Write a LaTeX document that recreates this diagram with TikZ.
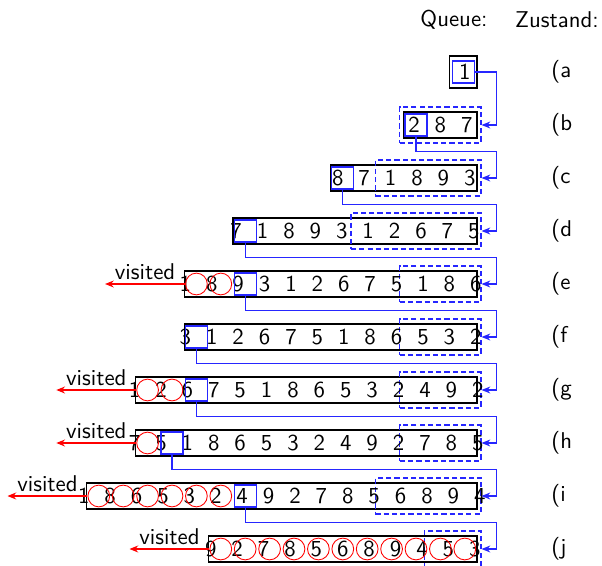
\documentclass[tikz,border=0pt]{standalone}
\usetikzlibrary{arrows.meta,fit,shadows}

% one queue row: name, y, length, digits, visited, current, new
\newcommand{\qrow}[7]{%
  \pgfmathsetmacro{\qL}{477-#3*24.4}
  \pgfmathsetmacro{\qC}{477-#3*12.2}
  \pgfmathsetmacro{\qP}{#3==1 ? 3 : 0}
  \node[qbox, fit={(\qL-\qP,#2-13-\qP) (477,#2+13+\qP)}] (q#1) {};
  \ifnum#7>0
    \node[newpart, fit={({477-#7*24.4-4},#2-18) (481,#2+18)}] (n#1) {};
  \fi
  \foreach \d [count=\k from 0] in {#4}
    \node[digit] (d#1\k) at ({\qC+(\k-(#3-1)/2)*26.4},#2) {\d};
  \ifnum#5>0
    \pgfmathtruncatemacro{\qv}{#5-1}
    \foreach \k in {0,...,\qv}
      \node[seencell] (v#1\k) at ({\qL+(\k+0.5)*24.4},#2) {};
    \path (v#10.west) ++(-80,0) coordinate (o#1);
    \draw[seen] (v#10.west) -- (o#1) node[midway, above, text=black, inner sep=1.5pt] (w#1) {visited};
  \fi
  \ifnum#6>-1
    \node[cur] (c#1) at ({\qL-\qP/2+(#6+0.5)*24.4},#2) {};
  \fi
  \node[anchor=west, inner sep=0pt] (l#1) at (551,#2) {(#1};
}

\begin{document}
\begin{tikzpicture}[x=0.46pt, y=-0.46pt, font=\sffamily\fontsize{10.5}{12}\selectfont,
    qbox/.style = {draw, line width=0.5pt, fill=white, inner sep=0pt,
      drop shadow={shadow xshift=0.5pt, shadow yshift=-0.5pt, fill=black!40, opacity=1}},
    newpart/.style = {draw=blue!85, dash pattern=on 2.4pt off 1.4pt, line width=0.55pt, inner sep=0pt},
    digit/.style = {inner sep=0pt},
    seencell/.style = {draw=red, circle, minimum size=10pt, inner sep=0pt, line width=0.4pt},
    cur/.style = {draw=blue!85, minimum size=10.1pt, inner sep=0pt, line width=0.55pt},
    link/.style = {blue!85, line width=0.55pt, -{Stealth[length=4pt,width=3.2pt]}},
    seen/.style = {red, line width=0.5pt, -{Stealth[length=4pt,width=3.2pt]}}]
  \useasboundingbox (0,0) rectangle (602,566);
  \node (queue) at (454,20) {Queue:};
  \node (state) at (557,20) {Zustand:};

  \qrow{a}{72}{1}{1}{0}{0}{0}
  \qrow{b}{125}{3}{2,8,7}{0}{0}{3}
  \qrow{c}{178}{6}{8,7,1,8,9,3}{0}{0}{4}
  \qrow{d}{231}{10}{7,1,8,9,3,1,2,6,7,5}{0}{0}{5}
  \qrow{e}{284}{12}{1,8,9,3,1,2,6,7,5,1,8,6}{2}{2}{3}
  \qrow{f}{337}{12}{3,1,2,6,7,5,1,8,6,5,3,2}{0}{0}{3}
  \qrow{g}{390}{14}{1,2,6,7,5,1,8,6,5,3,2,4,9,2}{2}{2}{3}
  \qrow{h}{443}{14}{7,5,1,8,6,5,3,2,4,9,2,7,8,5}{1}{1}{3}
  \qrow{i}{496}{16}{1,8,6,5,3,2,4,9,2,7,8,5,6,8,9,4}{6}{6}{4}
  \qrow{j}{549}{11}{9,2,7,8,5,6,8,9,4,5,3}{11}{-1}{2}

  \draw[link] (ca.east) -| ([xshift=6.9pt]nb.east) -- (nb.east);
  \foreach \p/\q in {b/c,c/d,d/e,e/f,f/g,g/h,h/i,i/j}
    \draw[link] (c\p.south) -- ++(0,15) -| ([xshift=6.9pt]n\q.east) -- (n\q.east);
\end{tikzpicture}
\end{document}
